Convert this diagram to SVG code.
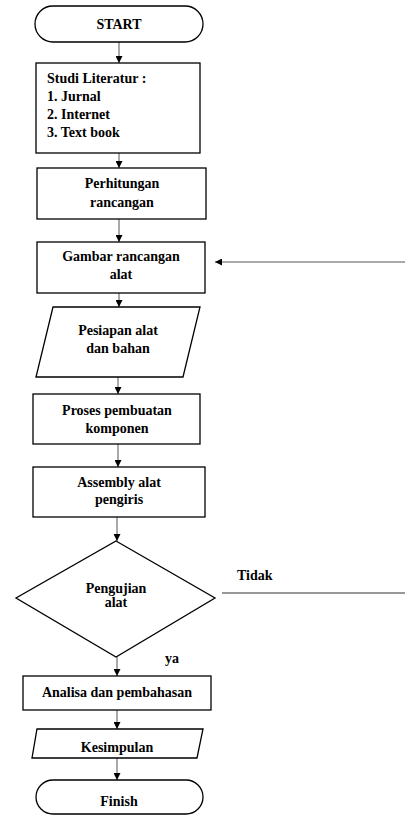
<svg xmlns="http://www.w3.org/2000/svg" width="405" height="816" viewBox="0 0 405 816">
  <style>
    .shape { fill: #ffffff; stroke: #000000; stroke-width: 1.3; }
    .label { font-family: "Liberation Serif", "Times New Roman", serif; font-size: 14px; font-weight: bold; fill: #000000; }
    .mid { text-anchor: middle; }
    .conn { fill: none; stroke: #555555; stroke-width: 1; }
    .plain { fill: none; stroke: #333333; stroke-width: 1.2; }
  </style>
  <defs>
    <marker id="arrow" viewBox="0 0 10 10" refX="10" refY="5" markerWidth="7" markerHeight="7" markerUnits="userSpaceOnUse" orient="auto">
      <path d="M0,0 L10,5 L0,10 Z" fill="#000000"/>
    </marker>
  </defs>
  <rect width="405" height="816" fill="#ffffff"/>

  <!-- connectors -->
  <g id="connectors">
    <line class="conn" x1="119" y1="42" x2="119" y2="63" marker-end="url(#arrow)"/>
    <line class="conn" x1="119" y1="153" x2="119" y2="168" marker-end="url(#arrow)"/>
    <line class="conn" x1="119" y1="219" x2="119" y2="242" marker-end="url(#arrow)"/>
    <line class="conn" x1="119" y1="293" x2="119" y2="307" marker-end="url(#arrow)"/>
    <line class="conn" x1="118" y1="377" x2="118" y2="394" marker-end="url(#arrow)"/>
    <line class="conn" x1="118" y1="444" x2="118" y2="467" marker-end="url(#arrow)"/>
    <line class="conn" x1="117" y1="517" x2="117" y2="541" marker-end="url(#arrow)"/>
    <line class="conn" x1="117" y1="657" x2="117" y2="676" marker-end="url(#arrow)"/>
    <line class="conn" x1="117" y1="710" x2="117" y2="729" marker-end="url(#arrow)"/>
    <line class="conn" x1="117" y1="758" x2="117" y2="780" marker-end="url(#arrow)"/>
    <!-- loop back from the test -->
    <line class="plain" x1="222" y1="593" x2="405" y2="593"/>
    <line class="conn" x1="405" y1="262" x2="215" y2="262" marker-end="url(#arrow)"/>
    <text class="label" x="237" y="580">Tidak</text>
    <text class="label" x="165" y="663">ya</text>
  </g>

  <g id="start">
    <rect class="shape" x="35" y="6" width="168" height="36" rx="18" ry="18"/>
    <text class="label mid" x="119" y="29">START</text>
  </g>

  <g id="studi-literatur">
    <rect class="shape" x="36" y="63" width="164" height="90"/>
    <text class="label" x="47" y="83">Studi Literatur :</text>
    <text class="label" x="47" y="101">1. Jurnal</text>
    <text class="label" x="47" y="119">2. Internet</text>
    <text class="label" x="47" y="137">3. Text book</text>
  </g>

  <g id="perhitungan">
    <rect class="shape" x="37" y="168" width="169" height="51"/>
    <text class="label mid" x="122" y="188">Perhitungan</text>
    <text class="label mid" x="122" y="207">rancangan</text>
  </g>

  <g id="gambar">
    <rect class="shape" x="37" y="242" width="168" height="51"/>
    <text class="label mid" x="121" y="261">Gambar rancangan</text>
    <text class="label mid" x="121" y="279">alat</text>
  </g>

  <g id="persiapan">
    <polygon class="shape" points="53,307 200,307 183,377 36,377"/>
    <text class="label mid" x="118" y="335">Pesiapan alat</text>
    <text class="label mid" x="118" y="353">dan bahan</text>
  </g>

  <g id="proses">
    <rect class="shape" x="33" y="394" width="167" height="50"/>
    <text class="label mid" x="117" y="415">Proses pembuatan</text>
    <text class="label mid" x="117" y="433">komponen</text>
  </g>

  <g id="assembly">
    <rect class="shape" x="33" y="467" width="172" height="50"/>
    <text class="label mid" x="119" y="487">Assembly alat</text>
    <text class="label mid" x="119" y="504">pengiris</text>
  </g>

  <g id="pengujian">
    <polygon class="shape" points="116,541 215,598 116,657 16,598"/>
    <text class="label mid" x="116" y="593">Pengujian</text>
    <text class="label mid" x="116" y="607">alat</text>
  </g>

  <g id="analisa">
    <rect class="shape" x="23" y="676" width="188" height="34"/>
    <text class="label mid" x="117" y="697">Analisa dan pembahasan</text>
  </g>

  <g id="kesimpulan">
    <polygon class="shape" points="37,729 203,729 197,758 32,758"/>
    <text class="label mid" x="117" y="752">Kesimpulan</text>
  </g>

  <g id="finish">
    <rect class="shape" x="36" y="780" width="167" height="34" rx="17" ry="17"/>
    <text class="label mid" x="119" y="806">Finish</text>
  </g>
</svg>
